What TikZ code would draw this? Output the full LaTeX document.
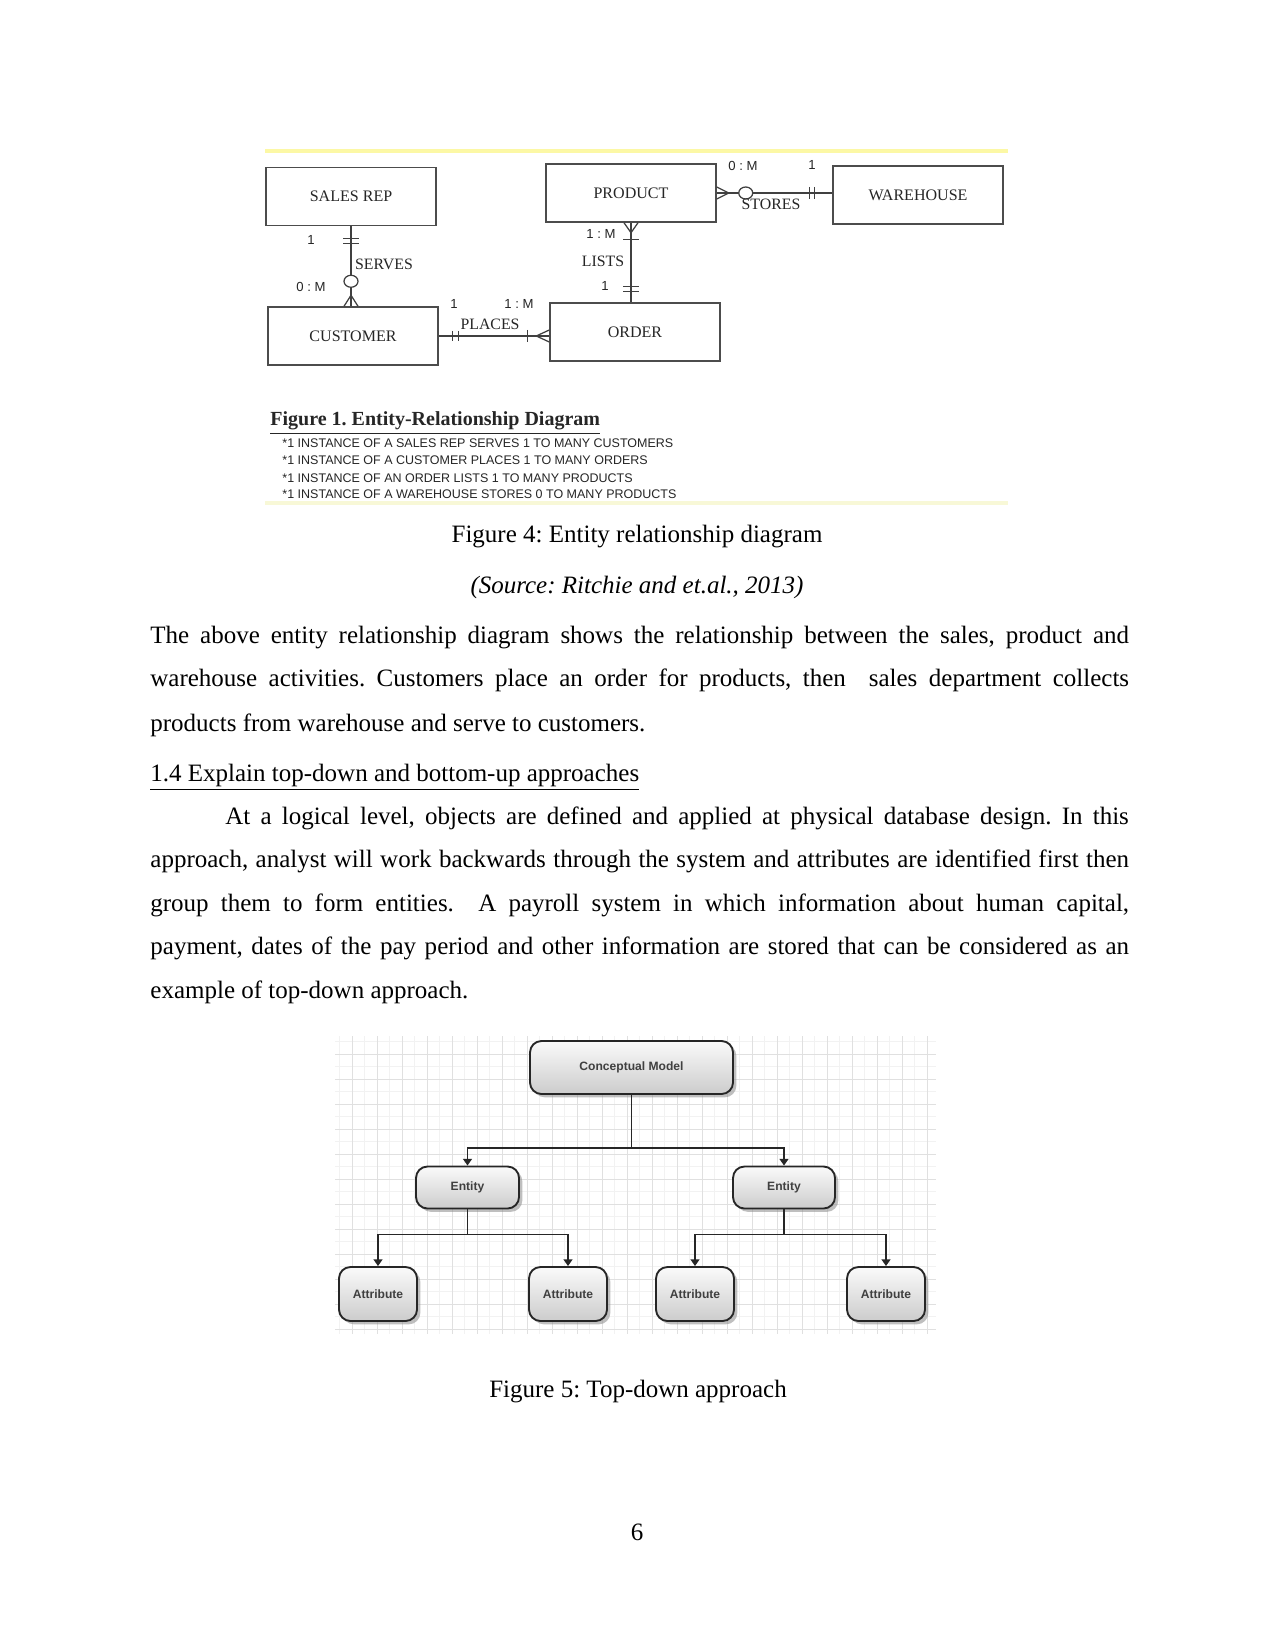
\documentclass[tikz,border=0pt]{standalone}
\usepackage{fontspec}
\setmainfont{Liberation Serif}
\newfontfamily\arialfont{Liberation Sans}
\usetikzlibrary{calc,shadows,arrows.meta}
\definecolor{ylw}{RGB}{252,248,165}
\definecolor{ylwb}{RGB}{248,248,215}
\frenchspacing
\newcommand\jline[2]{{\spaceskip=3pt plus 4pt minus 1.6pt\relax\makebox[#1][s]{#2}}}
\begin{document}
\begin{tikzpicture}[x=0.48pt,y=-0.48pt,
  erbox/.style={draw=black!70, line width=0.7pt, minimum width=170*0.48pt, minimum height=58*0.48pt, inner sep=0pt, font=\fontsize{7.7}{9}\selectfont, text=black!85},
  erline/.style={draw=black!75, line width=0.6pt},
  card/.style={font=\arialfont\fontsize{6.3}{7}\selectfont, inner sep=0pt, text=black!85},
  rel/.style={font=\fontsize{7.6}{9}\selectfont, inner sep=0pt, text=black!85},
  bul/.style={anchor=base west, inner sep=0pt, font=\arialfont\fontsize{6}{7}\selectfont, text=black!85},
  body/.style={anchor=base west, inner sep=0pt, font=\fontsize{12}{14}\selectfont},
  ctext/.style={anchor=base, inner sep=0pt, font=\fontsize{12}{14}\selectfont},
  tdbox/.style={draw=black!85, line width=0.9pt, rounded corners=5.5pt, top color=black!2, bottom color=black!20,
     drop shadow={shadow xshift=1.6pt, shadow yshift=-1.6pt, fill=black!45, opacity=0.55},
     inner sep=0pt, font=\arialfont\bfseries\fontsize{5.8}{7}\selectfont, text=black!75},
  tdline/.style={draw=black!85, line width=0.9pt},
  tdarrow/.style={tdline, -{Triangle[length=3.2pt,width=4.2pt]}}
]
\path[use as bounding box, fill=white] (0,0) rectangle (1275,1650);

% ---------- ER panel ----------
\draw[ylw, line width=2pt] (265,151) -- (1008,151);
\draw[ylwb, line width=1.5pt] (265,503) -- (1008,503);

\node[erbox] (salesrep) at (351,196.5) {SALES REP};
\node[erbox] (customer) at (353,336) {CUSTOMER};
\node[erbox] (product) at (631,193) {PRODUCT};
\node[erbox] (order) at (635,332) {ORDER};
\node[erbox] (warehouse) at (918,195) {WAREHOUSE};

% SERVES
\coordinate (sv) at (salesrep.south |- customer.north);
\draw[erline] (salesrep.south) -- (sv);
\draw[erline] ($(salesrep.south)+(-8,12)$) -- ++(16,0);
\draw[erline] ($(salesrep.south)+(-8,17)$) -- ++(16,0);
\draw[erline, fill=white] ($(sv)+(0,-25)$) ellipse [x radius=7, y radius=6];
\draw[erline] ($(sv)+(-7,0)$) -- ($(sv)+(0,-11)$) -- ($(sv)+(7,0)$);
\node[card] (c1) at (311,240) {1};
\node[rel] (serves) at (384,264) {SERVES};
\node[card] (c2) at (311,287) {0 : M};

% PLACES
\coordinate (pe) at (customer.east -| order.west);
\draw[erline] (customer.east) -- (pe);
\draw[erline] ($(customer.east)+(14,-5)$) -- ++(0,10);
\draw[erline] ($(customer.east)+(20,-5)$) -- ++(0,10);
\draw[erline] ($(pe)+(-22,-6)$) -- ++(0,12);
\draw[erline] ($(pe)+(0,-6)$) -- ($(pe)+(-13,0)$) -- ($(pe)+(0,6)$);
\node[card] (c3) at (454,304) {1};
\node[card] (c4) at (519,304) {1 : M};
\node[rel] (places) at (490,324) {PLACES};

% LISTS
\coordinate (le) at (product.south |- order.north);
\draw[erline] (product.south) -- (le);
\draw[erline] ($(product.south)+(-7,0)$) -- ($(product.south)+(0,10)$) -- ($(product.south)+(7,0)$);
\draw[erline] ($(product.south)+(-8,17)$) -- ++(16,0);
\draw[erline] ($(le)+(-8,-16)$) -- ++(16,0);
\draw[erline] ($(le)+(-8,-11)$) -- ++(16,0);
\node[card] (c5) at (601,234) {1 : M};
\node[rel] (lists) at (603,261) {LISTS};
\node[card] (c6) at (605,286) {1};

% STORES
\coordinate (se) at (product.east -| warehouse.west);
\draw[erline] (product.east) -- (se);
\draw[erline] ($(product.east)+(0,-6)$) -- ($(product.east)+(12,0)$) -- ($(product.east)+(0,6)$);
\draw[erline, fill=white] ($(product.east)+(29,0)$) ellipse [x radius=7, y radius=6];
\draw[erline] ($(se)+(-23,-6)$) -- ++(0,12);
\draw[erline] ($(se)+(-18,-6)$) -- ++(0,12);
\node[card] (c7) at (743,166) {0 : M};
\node[card] (c8) at (812,165) {1};
\node[rel] (stores) at (771,204) {STORES};

% caption of inner figure
\node[anchor=base west, inner sep=0pt, font=\bfseries\fontsize{9.6}{11}\selectfont, text=black!85] (fig1) at (270,426) {\underline{Figure 1. Entity-Relationship Diagram}};
\node[bul] (b1) at (282,448) {*1 INSTANCE OF A SALES REP SERVES 1 TO MANY CUSTOMERS};
\node[bul] (b2) at (282,464) {*1 INSTANCE OF A CUSTOMER PLACES 1 TO MANY ORDERS};
\node[bul] (b3) at (282,482) {*1 INSTANCE OF AN ORDER LISTS 1 TO MANY PRODUCTS};
\node[bul] (b4) at (282,498) {*1 INSTANCE OF A WAREHOUSE STORES 0 TO MANY PRODUCTS};

% ---------- page text ----------
\node[ctext] (cap4) at (637,542) {Figure 4: Entity relationship diagram};
\node[ctext] (src) at (637,593) {\itshape (Source: Ritchie and et.al., 2013)};
\node[body] (p1a) at (150,643) {\jline{6.5in}{The above entity relationship diagram shows the relationship between the sales, product and}};
\node[body] (p1b) at (150,686) {\jline{6.5in}{warehouse activities. Customers place an order for products, then \ sales department collects}};
\node[body] (p1c) at (150,731) {products from warehouse and serve to customers.};
\node[body] (h14) at (150,781) {\underline{1.4 Explain top-down and bottom-up approaches}};
\node[body] (p2a) at (225,824) {\jline{6in}{At a logical level, objects are defined and applied at physical database design. In this}};
\node[body] (p2b) at (150,867) {\jline{6.5in}{approach, analyst will work backwards through the system and attributes are identified first then}};
\node[body] (p2c) at (150,911) {\jline{6.5in}{group them to form entities. \ A payroll system in which information about human capital,}};
\node[body] (p2d) at (150,954) {\jline{6.5in}{payment, dates of the pay period and other information are stored that can be considered as an}};
\node[body] (p2e) at (150,998) {example of top-down approach.};

% ---------- top-down diagram ----------
\foreach \gx in {339.5,352,...,936} {\draw[black!5, line width=0.3pt] (\gx,1036) -- (\gx,1334);}
\foreach \gy in {1041.5,1054,...,1334} {\draw[black!5, line width=0.3pt] (335,\gy) -- (936,\gy);}
\foreach \gx in {352,377,...,936} {\draw[black!12, line width=0.4pt] (\gx,1036) -- (\gx,1334);}
\foreach \gy in {1054,1079,...,1334} {\draw[black!12, line width=0.4pt] (335,\gy) -- (936,\gy);}

\node[tdbox, minimum width=203*0.48pt, minimum height=53*0.48pt] (cm) at (631.5,1067.5) {Conceptual Model};
\node[tdbox, minimum width=103*0.48pt, minimum height=42*0.48pt] (e1) at (467.5,1187.5) {Entity};
\node[tdbox, minimum width=102*0.48pt, minimum height=42*0.48pt] (e2) at (784,1187.5) {Entity};
\node[tdbox, minimum width=78*0.48pt, minimum height=54*0.48pt] (a1) at (378,1294) {Attribute};
\node[tdbox, minimum width=78*0.48pt, minimum height=54*0.48pt] (a2) at (568,1294) {Attribute};
\node[tdbox, minimum width=78*0.48pt, minimum height=54*0.48pt] (a3) at (695,1294) {Attribute};
\node[tdbox, minimum width=78*0.48pt, minimum height=54*0.48pt] (a4) at (886,1294) {Attribute};

\coordinate (j0) at ($(cm.south)+(0,53)$);
\coordinate (j1) at ($(e1.south)+(0,25)$);
\coordinate (j2) at ($(e2.south)+(0,25)$);
\draw[tdline] (cm.south) -- (j0);
\draw[tdarrow] (j0) -| (e1.north);
\draw[tdarrow] (j0) -| (e2.north);
\draw[tdline] (e1.south) -- (j1);
\draw[tdarrow] (j1) -| (a1.north);
\draw[tdarrow] (j1) -| (a2.north);
\draw[tdline] (e2.south) -- (j2);
\draw[tdarrow] (j2) -| (a3.north);
\draw[tdarrow] (j2) -| (a4.north);

\node[ctext] (cap5) at (638,1397) {Figure 5: Top-down approach};
\node[ctext] (pg) at (637,1540) {6};
\end{tikzpicture}
\end{document}
